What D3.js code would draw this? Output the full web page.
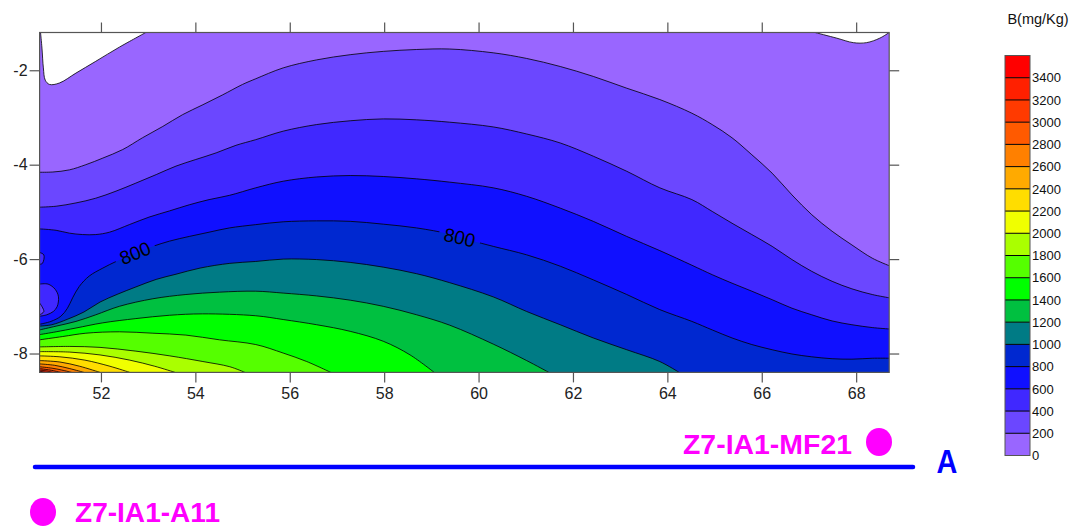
<!DOCTYPE html>
<html>
<head>
<meta charset="utf-8">
<script src="https://cdn.jsdelivr.net/npm/d3@7"></script>
<style>
body { margin: 0; background: #fff; }
svg { display: block; font-family: "Liberation Sans", Arial, sans-serif; }
</style>
</head>
<body>
<svg id="chart" width="1078" height="527"></svg>
<script>

// contour levels of B (mg/Kg) and their fill colours
const levels = [0, 200, 400, 600, 800, 1000, 1200, 1400, 1600, 1800, 2000, 2200, 2400, 2600, 2800, 3000, 3200, 3400]
const bandColors = ["#9966FF", "#6B47FF", "#4028FF", "#1010FF", "#0028D0", "#007B85", "#00C040", "#00FF00", "#55FF00",
    "#AAFF00", "#F0FF00", "#FFDD00", "#FFAA00", "#FF8000", "#FF5A00", "#FF3A00", "#FF2000", "#FF0000"]

const xTicks = [52, 54, 56, 58, 60, 62, 64, 66, 68]
const yTicks = [-2, -4, -6, -8]

// contour lines: [distance, depth]
const c200 = [[50.7,-4.16],[50.98,-4.155],[51.33,-4.11],[51.68,-4.0],[52.04,-3.86],[52.46,-3.68],[52.88,-3.43],[53.31,-3.19],[53.73,-2.94],[54.16,-2.73],[54.58,-2.52],[55.0,-2.3],[55.28,-2.18],[55.86,-1.95],[56.57,-1.78],[57.28,-1.67],[57.98,-1.6],[58.69,-1.56],[59.39,-1.55],[60.31,-1.63],[61.02,-1.75],[61.73,-1.92],[62.43,-2.13],[63.14,-2.38],[63.84,-2.62],[64.52,-2.91],[64.95,-3.15],[65.37,-3.43],[65.79,-3.79],[66.22,-4.18],[66.64,-4.64],[67.06,-5.06],[67.49,-5.41],[67.91,-5.7],[68.34,-5.98],[68.7,-6.14]]
const c400 = [[50.7,-4.9],[51.05,-4.88],[51.47,-4.81],[51.89,-4.71],[52.32,-4.56],[52.74,-4.39],[53.17,-4.21],[53.59,-4.03],[54.01,-3.89],[54.44,-3.75],[54.86,-3.59],[55.28,-3.47],[55.86,-3.29],[56.57,-3.15],[57.28,-3.07],[57.98,-3.03],[58.69,-3.05],[59.39,-3.1],[60.31,-3.2],[61.02,-3.35],[61.73,-3.54],[62.43,-3.82],[63.14,-4.14],[63.84,-4.49],[64.52,-4.74],[64.95,-4.99],[65.37,-5.24],[65.79,-5.48],[66.22,-5.73],[66.64,-6.01],[67.06,-6.26],[67.49,-6.47],[67.91,-6.63],[68.34,-6.75],[68.7,-6.82]]
const c600 = [[50.7,-5.36],[51.05,-5.39],[51.33,-5.45],[51.61,-5.48],[51.89,-5.48],[52.18,-5.43],[52.6,-5.27],[53.02,-5.11],[53.45,-4.98],[53.87,-4.85],[54.29,-4.74],[54.72,-4.65],[55.28,-4.49],[55.86,-4.35],[56.57,-4.26],[57.28,-4.23],[57.98,-4.25],[58.69,-4.3],[59.39,-4.37],[60.31,-4.49],[61.02,-4.67],[61.73,-4.92],[62.43,-5.2],[63.14,-5.52],[63.84,-5.82],[64.52,-6.13],[64.95,-6.33],[65.37,-6.51],[65.79,-6.68],[66.22,-6.86],[66.64,-7.04],[67.06,-7.18],[67.49,-7.31],[67.91,-7.39],[68.34,-7.45],[68.7,-7.48]]
const c800 = [[50.7,-7.38],[50.94,-7.32],[51.15,-7.21],[51.29,-7.04],[51.4,-6.82],[51.54,-6.58],[51.75,-6.36],[52.04,-6.19],[52.32,-6.05],[52.72,-5.87],[53.1,-5.73],[53.45,-5.62],[53.87,-5.52],[54.29,-5.43],[54.72,-5.34],[55.28,-5.27],[55.86,-5.21],[56.57,-5.19],[57.28,-5.2],[57.98,-5.26],[58.69,-5.34],[59.39,-5.47],[59.82,-5.6],[60.31,-5.73],[61.02,-5.91],[61.73,-6.15],[62.43,-6.44],[63.14,-6.75],[63.84,-7.07],[64.52,-7.32],[64.95,-7.5],[65.37,-7.67],[65.79,-7.81],[66.22,-7.92],[66.64,-8.01],[67.06,-8.07],[67.49,-8.11],[67.91,-8.12],[68.34,-8.1],[68.7,-8.1]]
const c1000 = [[50.7,-7.42],[50.96,-7.39],[51.3,-7.27],[51.64,-7.12],[51.98,-6.91],[52.36,-6.74],[52.74,-6.59],[53.17,-6.43],[53.59,-6.32],[54.1,-6.19],[54.73,-6.09],[55.28,-6.05],[55.86,-6.0],[56.57,-6.01],[57.28,-6.07],[57.98,-6.17],[58.69,-6.31],[59.39,-6.5],[60.31,-6.8],[61.02,-7.11],[61.73,-7.39],[62.43,-7.67],[63.14,-7.92],[63.84,-8.17],[64.25,-8.4]]
const c1200 = [[50.7,-7.5],[51.05,-7.42],[51.47,-7.32],[51.89,-7.18],[52.39,-7.0],[53.1,-6.84],[53.8,-6.75],[54.51,-6.7],[55.28,-6.68],[55.86,-6.72],[56.57,-6.78],[57.28,-6.87],[57.98,-7.0],[58.69,-7.18],[59.39,-7.4],[60.31,-7.8],[61.02,-8.15],[61.49,-8.4]]
const c1400 = [[50.7,-7.6],[51.05,-7.54],[51.47,-7.46],[52.04,-7.35],[52.74,-7.26],[53.45,-7.19],[54.15,-7.16],[55.28,-7.2],[55.86,-7.28],[56.57,-7.39],[57.28,-7.53],[57.98,-7.74],[58.55,-8.03],[59.06,-8.4]]
const c1600 = [[50.7,-7.71],[51.19,-7.64],[51.68,-7.57],[52.39,-7.54],[53.1,-7.57],[53.8,-7.61],[54.51,-7.71],[55.28,-7.81],[55.86,-7.99],[56.36,-8.17],[56.87,-8.4]]
const c1800 = [[50.7,-7.86],[51.34,-7.85],[51.98,-7.87],[52.74,-7.95],[53.46,-8.05],[54.16,-8.17],[54.73,-8.28],[55.05,-8.4]]
const c2000 = [[50.7,-7.96],[51.34,-7.97],[51.98,-8.03],[52.61,-8.14],[53.14,-8.27],[53.57,-8.4]]
const c2200 = [[50.7,-8.05],[51.13,-8.07],[51.66,-8.14],[52.19,-8.27],[52.61,-8.4]]
const c2400 = [[50.7,-8.15],[51.13,-8.18],[51.55,-8.27],[51.98,-8.4]]
const c2600 = [[50.7,-8.22],[51.02,-8.25],[51.34,-8.32],[51.64,-8.4]]
const c2800 = [[50.7,-8.28],[50.96,-8.31],[51.17,-8.35],[51.38,-8.4]]
const c3000 = [[50.7,-8.32],[50.92,-8.35],[51.15,-8.4]]
const c3200 = [[50.7,-8.35],[50.85,-8.37],[50.98,-8.4]]
const c3400 = [[50.7,-8.375],[50.83,-8.4]]

const contours = [c200, c400, c600, c800, c1000, c1200, c1400, c1600, c1800, c2000, c2200, c2400, c2600, c2800, c3000, c3200, c3400]

// small closed pockets at the left edge: [points, band index]
const pockets = [
    [[[50.7,-6.53],[50.88,-6.53],[51.03,-6.64],[51.1,-6.8],[51.07,-7.01],[50.99,-7.11],[50.85,-7.18],[50.7,-7.21]], 2],
    [[[50.7,-6.93],[50.79,-7.11],[50.7,-7.18]], 1],
    [[[50.7,-5.86],[50.79,-5.91],[50.76,-6.09],[50.7,-6.11]], 2]
]

// areas below zero (blank)
const blank1 = [[52.95,-1.2],[52.39,-1.51],[51.89,-1.81],[51.47,-2.06],[51.12,-2.27],[50.91,-2.3],[50.82,-2.21],[50.78,-1.95],[50.75,-1.53],[50.72,-1.2]]
const blank2 = [[67.13,-1.2],[67.59,-1.32],[67.94,-1.415],[68.22,-1.415],[68.5,-1.32],[68.7,-1.2]]

// contour labels
const labelSpots = [[52.72,-5.87],[59.6,-5.54]]
const labelText = "800"

// wells along the section
const wellNames = ["Z7-IA1-MF21", "Z7-IA1-A11"]
const sectionName = "A"
const unitTitle = "B(mg/Kg)"


const svg = d3.select('#chart')

const plot = { left: 39.6, right: 889.2, top: 32.5, bottom: 372.4 }

const xScale = d3.scaleLinear().domain([50.7, 68.7]).range([plot.left, plot.right])
const yScale = d3.scaleLinear().domain([-1.2, -8.4]).range([plot.top, plot.bottom])

const lineGen = d3.line()
    .x(d => xScale(d[0]))
    .y(d => yScale(d[1]))
    .curve(d3.curveCatmullRom.alpha(0.5))

const defs = svg.append('defs')
defs.append('clipPath').attr('id', 'plotClip')
    .append('rect')
    .attr('x', plot.left).attr('y', plot.top)
    .attr('width', plot.right - plot.left).attr('height', plot.bottom - plot.top)

const g = svg.append('g').attr('clip-path', 'url(#plotClip)')

// lowest band fills the whole section
g.append('rect')
    .attr('x', plot.left).attr('y', plot.top)
    .attr('width', plot.right - plot.left).attr('height', plot.bottom - plot.top)
    .attr('fill', bandColors[0])

// each contour: everything below it gets the next band colour
contours.forEach(function (pts, i) {
    const last = pts[pts.length - 1]
    let d = lineGen(pts)
    if (last[0] >= 68.69) d += `L${xScale(68.7)},${yScale(-8.4)}`
    d += `L${xScale(50.7)},${yScale(-8.4)}Z`
    g.append('path').attr('d', d).attr('fill', bandColors[i + 1])
})

pockets.forEach(function (p) {
    g.append('path').attr('d', lineGen(p[0]) + 'Z').attr('fill', bandColors[p[1]])
})

;[blank1, blank2].forEach(function (pts) {
    g.append('path').attr('d', lineGen(pts) + 'Z').attr('fill', '#fff')
})

// mask to break the 800 line under its labels
const mask = defs.append('mask').attr('id', 'labelMask')
mask.append('rect').attr('x', 0).attr('y', 0).attr('width', 1078).attr('height', 527).attr('fill', '#fff')

function angleAt(pts, spot) {
    let best = 0
    pts.forEach((p, i) => { if (Math.abs(p[0] - spot[0]) < Math.abs(pts[best][0] - spot[0])) best = i })
    const a = pts[Math.max(best - 1, 0)], b = pts[Math.min(best + 1, pts.length - 1)]
    return Math.atan2(yScale(b[1]) - yScale(a[1]), xScale(b[0]) - xScale(a[0])) * 180 / Math.PI
}

labelSpots.forEach(function (s) {
    const ang = angleAt(c800, s)
    mask.append('rect')
        .attr('x', -21).attr('y', -10).attr('width', 42).attr('height', 20)
        .attr('fill', '#000')
        .attr('transform', `translate(${xScale(s[0])},${yScale(s[1])}) rotate(${ang})`)
})

// contour lines
contours.forEach(function (pts, i) {
    g.append('path')
        .attr('d', lineGen(pts))
        .attr('fill', 'none')
        .attr('stroke', '#000')
        .attr('stroke-width', 0.8)
        .attr('mask', i == 3 ? 'url(#labelMask)' : null)
})
pockets.concat([[blank1], [blank2]]).forEach(function (p) {
    g.append('path').attr('d', lineGen(p[0])).attr('fill', 'none').attr('stroke', '#000').attr('stroke-width', 0.8)
})

labelSpots.forEach(function (s) {
    const ang = angleAt(c800, s)
    g.append('text')
        .attr('transform', `translate(${xScale(s[0])},${yScale(s[1])}) rotate(${ang})`)
        .attr('text-anchor', 'middle')
        .attr('dy', '0.36em')
        .attr('font-size', 19)
        .attr('fill', '#000')
        .text(labelText)
})

// frame
svg.append('rect')
    .attr('x', plot.left).attr('y', plot.top)
    .attr('width', plot.right - plot.left).attr('height', plot.bottom - plot.top)
    .attr('fill', 'none').attr('stroke', '#555').attr('stroke-width', 1.2)

// axes
function styleAxis(sel) {
    sel.select('.domain').remove()
    sel.selectAll('line').attr('stroke', '#555').attr('stroke-width', 1.2)
    sel.selectAll('text').attr('fill', '#222').attr('font-size', 16).attr('font-family', '"Liberation Sans", Arial, sans-serif')
}

svg.append('g').attr('transform', `translate(${plot.left},0)`)
    .call(d3.axisLeft(yScale).tickValues(yTicks).tickSize(10).tickPadding(2).tickFormat(d => String(d)))
    .call(styleAxis)

svg.append('g').attr('transform', `translate(${plot.right},0)`)
    .call(d3.axisRight(yScale).tickValues(yTicks).tickSize(10).tickFormat(''))
    .call(styleAxis)

svg.append('g').attr('transform', `translate(0,${plot.top})`)
    .call(d3.axisTop(xScale).tickValues(xTicks).tickSize(10).tickFormat(''))
    .call(styleAxis)

svg.append('g').attr('transform', `translate(0,${plot.bottom})`)
    .call(d3.axisBottom(xScale).tickValues(xTicks).tickSize(10).tickPadding(5).tickFormat(d => String(d)))
    .call(styleAxis)

// colour bar
const barScale = d3.scaleLinear().domain([0, 3600]).range([455.5, 55.5])
const bar = svg.append('g')

bar.selectAll('rect')
    .data(levels)
    .enter()
    .append('rect')
    .attr('x', 1005)
    .attr('y', d => barScale(d + 200))
    .attr('width', 25)
    .attr('height', d => barScale(d) - barScale(d + 200))
    .attr('fill', (d, i) => bandColors[i])

bar.selectAll('line')
    .data(levels.slice(1))
    .enter()
    .append('line')
    .attr('x1', 1005).attr('x2', 1030)
    .attr('y1', d => barScale(d)).attr('y2', d => barScale(d))
    .attr('stroke', '#000').attr('stroke-width', 1)

bar.append('rect')
    .attr('x', 1005).attr('y', barScale(3600))
    .attr('width', 25).attr('height', barScale(0) - barScale(3600))
    .attr('fill', 'none').attr('stroke', '#555').attr('stroke-width', 1)

bar.selectAll('text.lab')
    .data(levels)
    .enter()
    .append('text')
    .attr('class', 'lab')
    .attr('x', 1032)
    .attr('y', d => barScale(d))
    .attr('dy', '0.36em')
    .attr('font-size', 13)
    .attr('fill', '#111')
    .text(d => d)

bar.append('text')
    .attr('x', 1038).attr('y', 24)
    .attr('text-anchor', 'middle')
    .attr('font-size', 14.5)
    .attr('fill', '#111')
    .text(unitTitle)

// section line and wells
svg.append('line')
    .attr('x1', 35).attr('x2', 913).attr('y1', 467).attr('y2', 467)
    .attr('stroke', '#0000FF').attr('stroke-width', 4.5).attr('stroke-linecap', 'round')

svg.append('text')
    .attr('x', 947).attr('y', 473)
    .attr('text-anchor', 'middle')
    .attr('font-size', 34).attr('font-weight', 'bold')
    .attr('fill', '#0000FF')
    .attr('transform', 'translate(947,473) scale(0.85,1) translate(-947,-473)')
    .text(sectionName)

svg.append('text')
    .attr('x', 683).attr('y', 454)
    .attr('font-size', 27).attr('font-weight', 'bold')
    .attr('fill', '#FF00FF')
    .attr('textLength', 169).attr('lengthAdjust', 'spacingAndGlyphs')
    .text(wellNames[0])
svg.append('ellipse')
    .attr('cx', 879).attr('cy', 442).attr('rx', 13).attr('ry', 14)
    .attr('fill', '#FF00FF')

svg.append('text')
    .attr('x', 75).attr('y', 522)
    .attr('font-size', 27).attr('font-weight', 'bold')
    .attr('fill', '#FF00FF')
    .attr('textLength', 145).attr('lengthAdjust', 'spacingAndGlyphs')
    .text(wellNames[1])
svg.append('ellipse')
    .attr('cx', 43).attr('cy', 512).attr('rx', 13).attr('ry', 14)
    .attr('fill', '#FF00FF')

</script>
</body>
</html>
